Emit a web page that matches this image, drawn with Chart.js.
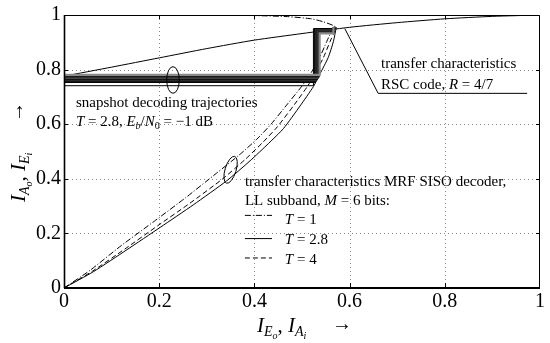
<!DOCTYPE html>
<html>
<head>
<meta charset="utf-8">
<script src="https://cdn.jsdelivr.net/npm/chart.js@4/dist/chart.umd.min.js"></script>
<style>
html, body { margin: 0; padding: 0; background: #fff; }
#wrap { width: 550px; height: 343px; }
</style>
</head>
<body>
<div id="wrap"><canvas id="exit"></canvas></div>
<script>
// RSC code transfer characteristic, R = 4/7
const rscX = [0, 0.1, 0.2, 0.3, 0.4, 0.5, 0.6, 0.7, 0.8, 0.9, 1];
const rscY = [0.776, 0.809, 0.843, 0.877, 0.908, 0.932, 0.955, 0.972, 0.986, 0.995, 1.0];

// MRF SISO decoder, T = 2.8 (solid)
const mrf28X = [0, 0.062, 0.132, 0.202, 0.272, 0.342, 0.391, 0.43, 0.461, 0.496, 0.524, 0.538, 0.555, 0.566, 0.572];
const mrf28Y = [0, 0.06, 0.14, 0.222, 0.305, 0.393, 0.466, 0.53, 0.584, 0.667, 0.738, 0.785, 0.844, 0.903, 0.955];

// T = 4 (dashed)
const mrf4X = [0, 0.06, 0.128, 0.196, 0.264, 0.332, 0.38, 0.418, 0.448, 0.484, 0.512, 0.527, 0.545, 0.559, 0.566, 0.572];
const mrf4Y = [0, 0.062, 0.143, 0.227, 0.31, 0.398, 0.47, 0.534, 0.59, 0.672, 0.74, 0.785, 0.844, 0.903, 0.93, 0.955];

// T = 1 (dash-dot), bends back along the top
const mrf1X = [0, 0.055, 0.12, 0.19, 0.255, 0.32, 0.37, 0.405, 0.435, 0.47, 0.5, 0.518, 0.537, 0.552, 0.562, 0.57, 0.545, 0.52, 0.47, 0.40];
const mrf1Y = [0, 0.065, 0.155, 0.245, 0.33, 0.42, 0.49, 0.545, 0.6, 0.675, 0.74, 0.785, 0.844, 0.903, 0.94, 0.957, 0.975, 0.986, 0.994, 0.998];

// snapshot decoding trajectories, T = 2.8, Eb/N0 = -1 dB
const trajA0 = [0.781, 0.775, 0.770, 0.765, 0.760, 0.755, 0.741];
const trajE1 = [0.537, 0.535, 0.533, 0.531, 0.529, 0.527, 0.524];
const trajA1 = [0.933, 0.936, 0.939, 0.942, 0.945, 0.948, 0.950];
const trajE2 = [0.566, 0.566, 0.567, 0.567, 0.568, 0.568, 0.569];
const trajA2 = [0.955, 0.955, 0.956, 0.956, 0.956, 0.957, 0.957];
const trajColors = ['#8a8a8a', '#1a1a1a', '#444', '#111', '#333', '#000', '#000'];

const tickVals = [0, 0.2, 0.4, 0.6, 0.8, 1];
const tickLabels = ['0', '0.2', '0.4', '0.6', '0.8', '1'];

const SERIF = '"Liberation Serif", "Times New Roman", serif';

function pts(xs, ys) {
    return xs.map((x, i) => ({ x: x, y: ys[i] }));
}

const datasets = [];
trajA0.forEach((a0, k) => {
    datasets.push({
        data: [
            { x: 0, y: a0 },
            { x: trajE1[k], y: a0 },
            { x: trajE1[k], y: trajA1[k] },
            { x: trajE2[k], y: trajA1[k] },
            { x: trajE2[k], y: trajA2[k] }
        ],
        borderColor: trajColors[k],
        borderWidth: k === trajA0.length - 1 ? 1 : 2.2,
        tension: 0
    });
});
datasets.push({ data: pts(rscX, rscY), borderColor: '#000', borderWidth: 1 });
datasets.push({ data: pts(mrf28X, mrf28Y), borderColor: '#000', borderWidth: 1 });
datasets.push({ data: pts(mrf4X, mrf4Y), borderColor: '#000', borderWidth: 1, borderDash: [5, 3] });
datasets.push({ data: pts(mrf1X, mrf1Y), borderColor: '#000', borderWidth: 1, borderDash: [6, 2, 1, 2] });

// text with italic runs and subscripts
function rich(ctx, x, y, parts) {
    let cx = x;
    parts.forEach(p => {
        ctx.font = (p.i ? 'italic ' : '') + (p.s || 15) + 'px ' + SERIF;
        ctx.fillText(p.t, cx, y + (p.d || 0));
        cx += ctx.measureText(p.t).width;
    });
    return cx;
}

const gridPlugin = {
    id: 'dotgrid',
    beforeDatasetsDraw(chart) {
        const { ctx, chartArea: a, scales: { x, y } } = chart;
        ctx.save();
        ctx.strokeStyle = '#888';
        ctx.lineWidth = 1;
        ctx.setLineDash([1, 3]);
        tickVals.slice(1, -1).forEach(v => {
            const px = Math.round(x.getPixelForValue(v)) + 0.5;
            const py = Math.round(y.getPixelForValue(v)) + 0.5;
            ctx.beginPath(); ctx.moveTo(px, a.top); ctx.lineTo(px, a.bottom); ctx.stroke();
            ctx.beginPath(); ctx.moveTo(a.left, py); ctx.lineTo(a.right, py); ctx.stroke();
        });
        ctx.restore();
    }
};

const notesPlugin = {
    id: 'notes',
    afterDraw(chart) {
        const { ctx, chartArea: a, scales: { x, y } } = chart;
        const X = v => x.getPixelForValue(v);
        const Y = v => y.getPixelForValue(v);
        ctx.save();

        // frame and inward ticks
        ctx.strokeStyle = '#000';
        ctx.setLineDash([]);
        ctx.lineWidth = 1;
        ctx.beginPath();
        ctx.moveTo(a.left, a.top + 0.5); ctx.lineTo(a.right - 0.5, a.top + 0.5); ctx.lineTo(a.right - 0.5, a.bottom);
        ctx.stroke();
        ctx.lineWidth = 1.6;
        ctx.beginPath(); ctx.moveTo(a.left + 0.5, a.top); ctx.lineTo(a.left + 0.5, a.bottom); ctx.stroke();
        ctx.lineWidth = 2.2;
        ctx.beginPath(); ctx.moveTo(a.left, a.bottom); ctx.lineTo(a.right, a.bottom); ctx.stroke();
        ctx.lineWidth = 1;
        tickVals.slice(1, -1).forEach(v => {
            const px = Math.round(X(v)) + 0.5, py = Math.round(Y(v)) + 0.5;
            ctx.beginPath();
            ctx.moveTo(px, a.bottom); ctx.lineTo(px, a.bottom - 5);
            ctx.moveTo(px, a.top); ctx.lineTo(px, a.top + 4);
            ctx.moveTo(a.left, py); ctx.lineTo(a.left + 4, py);
            ctx.moveTo(a.right, py); ctx.lineTo(a.right - 4, py);
            ctx.stroke();
        });

        // ellipses
        ctx.beginPath();
        ctx.ellipse(X(0.229), Y(0.762), 6.3, 13.3, 0, 0, Math.PI * 2);
        ctx.stroke();
        ctx.beginPath();
        ctx.ellipse(X(0.35), Y(0.433), 5.5, 14, 0.3, 0, Math.PI * 2);
        ctx.stroke();

        // leader line to RSC label
        ctx.beginPath();
        ctx.moveTo(X(0.59), Y(0.95));
        ctx.lineTo(X(0.66), Y(0.713));
        ctx.lineTo(X(0.973), Y(0.713));
        ctx.stroke();

        // legend samples
        const lx0 = X(0.38), lx1 = X(0.437);
        [[0.266, [6, 2, 1, 2]], [0.181, []], [0.11, [5, 3]]].forEach(([v, dash]) => {
            ctx.setLineDash(dash);
            ctx.beginPath(); ctx.moveTo(lx0, Y(v)); ctx.lineTo(lx1, Y(v)); ctx.stroke();
        });
        ctx.setLineDash([]);

        // annotation texts
        ctx.fillStyle = '#000';
        ctx.textBaseline = 'alphabetic';
        ctx.textAlign = 'left';
        rich(ctx, X(0.025), Y(0.663), [{ t: 'snapshot decoding trajectories' }]);
        rich(ctx, X(0.025), Y(0.592), [
            { t: 'T', i: 1 }, { t: ' = 2.8, ' }, { t: 'E', i: 1 }, { t: 'b', i: 1, s: 10, d: 3 },
            { t: '/' }, { t: 'N', i: 1 }, { t: '0', s: 10, d: 3 }, { t: ' = \u22121 dB' }
        ]);
        rich(ctx, X(0.666), Y(0.805), [{ t: 'transfer characteristics' }]);
        rich(ctx, X(0.666), Y(0.73), [{ t: 'RSC code, ' }, { t: 'R', i: 1 }, { t: ' = 4/7' }]);
        rich(ctx, X(0.38), Y(0.372), [{ t: 'transfer characteristics MRF SISO decoder,' }]);
        rich(ctx, X(0.38), Y(0.305), [{ t: 'LL subband, ' }, { t: 'M', i: 1 }, { t: ' = 6 bits:' }]);
        rich(ctx, X(0.464), Y(0.234), [{ t: 'T', i: 1 }, { t: ' = 1' }]);
        rich(ctx, X(0.464), Y(0.16), [{ t: 'T', i: 1 }, { t: ' = 2.8' }]);
        rich(ctx, X(0.464), Y(0.089), [{ t: 'T', i: 1 }, { t: ' = 4' }]);

        // axis titles
        rich(ctx, 257, 332, [
            { t: 'I', i: 1, s: 21 }, { t: 'E', i: 1, s: 14, d: 4 }, { t: 'o', i: 1, s: 10, d: 7 },
            { t: ', ', s: 21 }, { t: 'I', i: 1, s: 21 }, { t: 'A', i: 1, s: 14, d: 4 }, { t: 'i', i: 1, s: 10, d: 7 }
        ]);
        rich(ctx, 332, 330, [{ t: '\u2192', s: 20 }]);
        ctx.translate(25, 202);
        ctx.rotate(-Math.PI / 2);
        rich(ctx, 0, 0, [
            { t: 'I', i: 1, s: 21 }, { t: 'A', i: 1, s: 14, d: 4 }, { t: 'o', i: 1, s: 10, d: 7 },
            { t: ', ', s: 21 }, { t: 'I', i: 1, s: 21 }, { t: 'E', i: 1, s: 14, d: 4 }, { t: 'i', i: 1, s: 10, d: 7 }
        ]);
        rich(ctx, 80, -2, [{ t: '\u2192', s: 20 }]);
        ctx.restore();
    }
};

const tickFont = { family: SERIF, size: 20 };

new Chart(document.getElementById('exit'), {
    type: 'scatter',
    data: { datasets: datasets },
    options: {
        responsive: true,
        maintainAspectRatio: false,
        animation: false,
        showLine: true,
        elements: { point: { radius: 0 }, line: { tension: 0.2 } },
        layout: { padding: { left: 0, right: 10, top: 6, bottom: 0 } },
        plugins: { legend: { display: false }, tooltip: { enabled: false } },
        scales: {
            x: {
                type: 'linear', min: 0, max: 1,
                afterBuildTicks: s => { s.ticks = tickVals.map(v => ({ value: v })); },
                afterFit: s => { s.height = 55; },
                grid: { display: false, drawTicks: false },
                border: { display: false },
                ticks: { font: tickFont, color: '#000', padding: 2, maxRotation: 0,
                         callback: (v, i) => tickLabels[i] }
            },
            y: {
                type: 'linear', min: 0, max: 1,
                afterBuildTicks: s => { s.ticks = tickVals.map(v => ({ value: v })); },
                afterFit: s => { s.width = 64; },
                grid: { display: false, drawTicks: false },
                border: { display: false },
                ticks: { font: tickFont, color: '#000', padding: 3,
                         callback: (v, i) => tickLabels[i] }
            }
        }
    },
    plugins: [gridPlugin, notesPlugin]
});
</script>
</body>
</html>
